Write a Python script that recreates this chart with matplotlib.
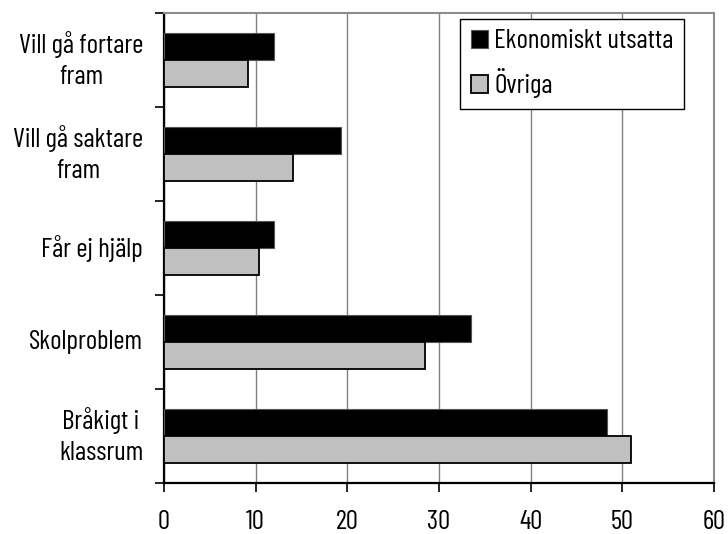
import numpy as np
import matplotlib
matplotlib.use("Agg")
import matplotlib.pyplot as plt

plt.rcParams['font.family'] = ['Barlow Condensed', 'Roboto Condensed', 'DejaVu Sans']

categories = ['Vill gå fortare\nfram', 'Vill gå saktare\nfram', 'Får ej hjälp',
              'Skolproblem', 'Bråkigt i\nklassrum']
utsatta = [12.0, 19.3, 12.0, 33.5, 48.3]
ovriga = [9.2, 14.1, 10.4, 28.5, 50.9]
xticks = [0, 10, 20, 30, 40, 50, 60]

fs = 19.5

fig = plt.figure(figsize=(7.28, 5.34), dpi=100)
ax = fig.add_axes([164 / 728, 1 - 483 / 534, 550 / 728, 470 / 534])

y = np.arange(len(categories))
h = 0.29
ax.barh(y - h / 2, utsatta, height=h, color='black', edgecolor='#555555',
        linewidth=0.8, label='Ekonomiskt utsatta', zorder=3)
ax.barh(y + h / 2, ovriga, height=h, color='#c0c0c0', edgecolor='black',
        linewidth=1.3, label='Övriga', zorder=3)

ax.set_ylim(len(categories) - 0.5, -0.5)
ax.set_xlim(0, 60)
ax.set_xticks(xticks)
ax.set_xticklabels([str(t) for t in xticks], fontsize=fs)
ax.set_yticks(y)
ax.set_yticklabels(categories, fontsize=fs, linespacing=1.4, ha='right',
                   multialignment='center')
for t in ax.get_yticklabels():
    t.set_va('center')
ax.set_yticks(np.arange(len(categories) + 1) - 0.5, minor=True)
ax.tick_params(axis='y', which='major', length=0, pad=15)
ax.tick_params(axis='y', which='minor', length=6.5, width=1.2, direction='out')
ax.tick_params(axis='x', length=6.5, width=1.2, direction='out', pad=13)

ax.xaxis.grid(True, color='#808080', linewidth=1.0, zorder=0)
for s in ['top', 'right']:
    ax.spines[s].set_color('#8c8c8c')
    ax.spines[s].set_linewidth(1.5)
for s in ['left', 'bottom']:
    ax.spines[s].set_color('black')
    ax.spines[s].set_linewidth(1.6)

leg = ax.legend(loc='upper right', bbox_to_anchor=(0.9455, 0.987),
                fontsize=fs, frameon=True, fancybox=False, framealpha=1,
                edgecolor='black', handlelength=0.66, handleheight=0.62,
                handletextpad=0.22, borderpad=0.38, labelspacing=0.55, borderaxespad=0)
leg.get_frame().set_linewidth(1.0)
for t in leg.get_texts():
    t.set_va('baseline')

fig.savefig('out.png', dpi=100)
